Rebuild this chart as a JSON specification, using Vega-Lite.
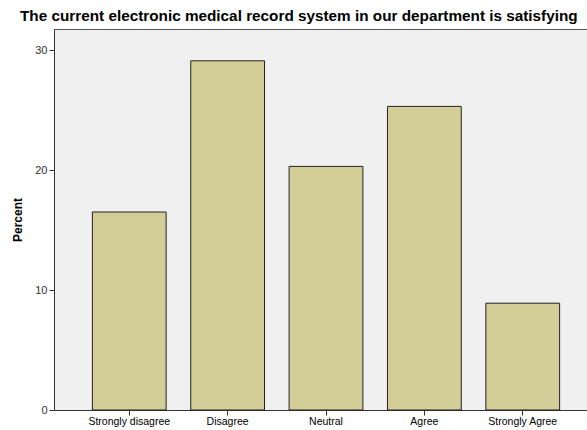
{
  "$schema": "https://vega.github.io/schema/vega-lite/v6.json",
  "autosize": "none",
  "padding": {"left": 54, "top": 29, "right": 0, "bottom": 20},
  "width": 544,
  "height": 381,
  "background": "white",
  "title": {
    "text": "The current electronic medical record system in our department is satisfying",
    "font": "Liberation Sans",
    "fontSize": 15.3,
    "fontWeight": "bold",
    "color": "black",
    "anchor": "start",
    "frame": "group",
    "dx": -34,
    "offset": 5
  },
  "config": {
    "view": {"fill": "#f0f0f0", "stroke": "#555555", "strokeWidth": 1},
    "axis": {"labelFont": "Liberation Sans", "titleFont": "Liberation Sans"}
  },
  "data": {
    "values": [
      {"response": "Strongly disagree", "percent": 16.5},
      {"response": "Disagree", "percent": 29.1},
      {"response": "Neutral", "percent": 20.3},
      {"response": "Agree", "percent": 25.3},
      {"response": "Strongly Agree", "percent": 8.9}
    ]
  },
  "mark": {"type": "bar", "fill": "#d3ce97", "stroke": "#222222", "strokeWidth": 1},
  "encoding": {
    "x": {
      "field": "response",
      "type": "nominal",
      "sort": null,
      "scale": {"paddingInner": 0.25, "paddingOuter": 0.39},
      "axis": {
        "title": null,
        "labelAngle": 0,
        "labelFontSize": 10.5,
        "labelColor": "#000000",
        "tickSize": 5,
        "tickColor": "#333333",
        "domainColor": "#333333",
        "labelPadding": 1,
        "grid": false
      }
    },
    "y": {
      "field": "percent",
      "type": "quantitative",
      "scale": {"domain": [0, 31.75], "nice": false, "zero": true},
      "axis": {
        "title": "Percent",
        "titleFontSize": 12,
        "titleFontWeight": "bold",
        "titleColor": "#000000",
        "titlePadding": 10,
        "values": [0, 10, 20, 30],
        "labelFontSize": 11,
        "labelColor": "#333333",
        "tickSize": 5,
        "tickColor": "#333333",
        "domainColor": "#333333",
        "labelPadding": 2,
        "grid": false
      }
    }
  }
}
